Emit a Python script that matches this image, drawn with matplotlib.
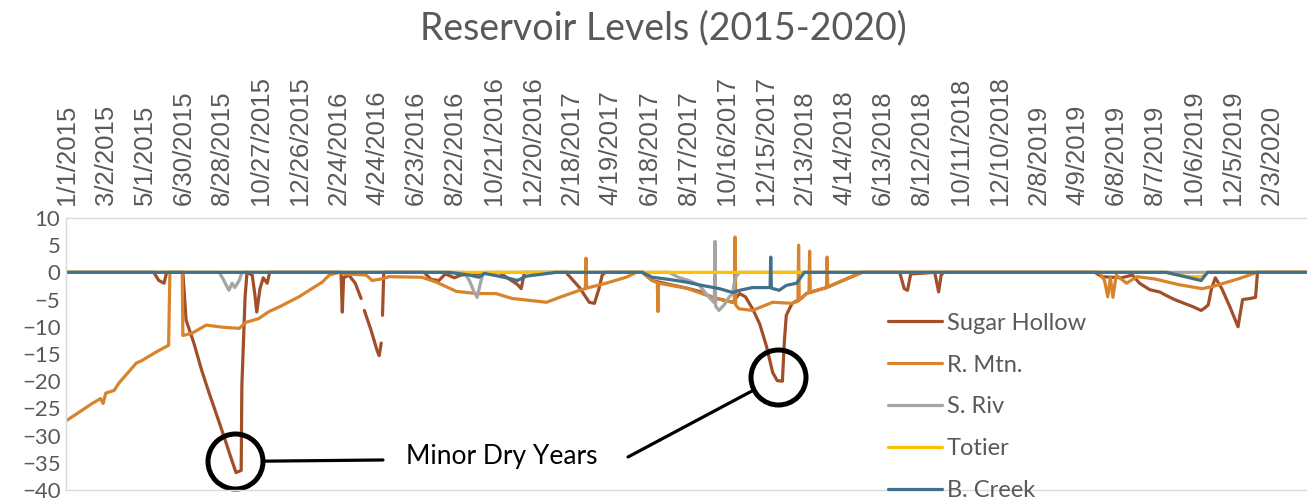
import numpy as np
import pandas as pd
import matplotlib
matplotlib.use('Agg')
import matplotlib.pyplot as plt
import matplotlib.dates as mdates
from matplotlib.transforms import offset_copy

# Reservoir levels, feet relative to full pool. x = days since 1/1/2015
start = pd.Timestamp('2015-01-01')

sugar_days = [0, 134, 142, 150, 154, 179, 184, 196, 208, 219, 232, 242, 253, 261, 269, 270, 275, 278,
              286, 290, 293, 298, 303, 309, 313, 423, 425, 427, 435, 445, 454, 455, 459, 469, 479, 482,
              485, 486, 487, 489, 551, 562, 574, 584, 598, 608, 667, 682, 695, 701, 706, 770, 791, 806,
              814, 821, 826, 831, 888, 903, 929, 956, 976, 996, 1027, 1038, 1047, 1058, 1069, 1079,
              1089, 1096, 1104, 1107, 1110, 1119, 1133, 1141, 1172, 1207, 1227, 1285, 1292, 1297, 1302,
              1339, 1345, 1349, 1353, 1586, 1597, 1627, 1644, 1655, 1671, 1686, 1697, 1709, 1724, 1739,
              1750, 1755, 1761, 1766, 1772, 1782, 1795, 1807, 1814, 1826, 1834, 1837, 1912]
sugar_vals = [0, 0, -1.5, -2.0, 0, 0, -8.8, -13.0, -18.0, -22.0, -26.5, -30.0, -34.0, -36.8, -36.4, -21.0, -4.5, 0,
              -0.5, -4.0, -7.3, -3.0, -1.0, -2.0, 0, 0, -7.3, -1.0, -0.5, -2.0, -4.8, np.nan, -7.0, -10.5, -14.5, -15.3,
              -13.0, np.nan, -7.9, 0, 0, -1.3, -1.5, -0.3, -1.0, -0.5, 0, -1.2, -2.2, -3.0, 0, 0, -2.8, -5.5,
              -5.7, -3.0, -0.5, 0, 0, -1.5, -2.2, -2.9, -3.5, -4.6, -5.5, -3.9, -4.5, -6.7, -9.5, -13.4,
              -18.4, -19.9, -20.0, -12.8, -7.9, -5.7, -4.8, -3.9, -2.8, -1.0, 0, 0, -3.0, -3.3, -0.3,
              0, -3.6, -0.5, 0, 0, -0.8, -1.0, -0.5, -2.0, -3.2, -3.6, -4.3, -5.0, -5.7, -6.4,
              -7.0, -6.6, -6.0, -3.0, -1.0, -3.0, -6.5, -10.0, -5.0, -4.8, -4.6, 0, 0]

rmtn_days = [0, 19, 39, 52, 56, 60, 73, 80, 107, 116, 137, 157, 159, 178, 179, 193, 215, 242, 266, 276,
             296, 312, 327, 358, 394, 405, 420, 428, 462, 471, 486, 497, 548, 570, 601, 632, 662, 687,
             740, 760, 791, 800, 801, 802, 832, 863, 879, 888, 903, 911, 912, 913, 956, 996, 1027, 1030,
             1031, 1032, 1037, 1058, 1089, 1119, 1128, 1129, 1130, 1141, 1145, 1146, 1147, 1172, 1173,
             1174, 1207, 1227, 1593, 1601, 1606, 1610, 1614, 1619, 1635, 1651, 1678, 1717, 1752, 1771,
             1810, 1836, 1912]
rmtn_vals = [-27.2, -25.7, -24.1, -23.2, -24.1, -22.2, -21.7, -20.4, -16.7, -16.2, -14.7, -13.4, 0, 0, -11.6, -11.2, -9.7, -10.1, -10.3, -9.2,
             -8.5, -7.2, -6.4, -4.5, -1.8, -0.5, 0, -0.3, -0.5, -1.5, -1.2, -0.8, -0.9, -1.8, -3.5, -3.9, -3.9, -4.8,
             -5.5, -4.6, -3.3, -3.0, 2.6, -2.9, -2.0, -0.9, 0, 0, -1.5, -1.9, -7.2, -2.0, -2.9, -4.6, -5.5, -5.6,
             6.5, -6.0, -6.7, -7.0, -5.5, -5.7, -5.3, 5.0, -5.1, -3.9, -3.7, 3.9, -3.6, -2.8, 2.8,
             -2.7, -1.0, 0, 0, -1.5, -4.5, -1.0, -4.6, -0.5, -2.0, -0.8, -1.2, -2.3, -3.0, -2.5,
             -1.1, 0, 0]

sriv_days = [0, 235, 241, 247, 250, 255, 259, 266, 270, 613, 621, 628, 633, 638, 643, 929, 945, 960, 976,
             991, 999, 1000, 1001, 1006, 1014, 1022, 1027, 1031, 1038, 1912]
sriv_vals = [0, 0, -1.2, -2.6, -3.3, -2.0, -2.8, -1.5, 0, 0, -1.5, -3.5, -4.6, -2.0, 0, 0, -1.0, -1.5, -2.4,
             -4.6, -5.6, 5.7, -6.2, -7.0, -6.0, -4.5, -4.0, -1.0, 0, 0]

totier_days = [0, 1694, 1709, 1732, 1752, 1760, 1912]
totier_vals = [0, 0, -0.4, -0.8, -0.8, 0, 0]

bcreek_days = [0, 590, 621, 636, 644, 662, 682, 695, 709, 729, 755, 888, 903, 929, 956, 980, 1007, 1027,
               1038, 1058, 1085, 1086, 1087, 1099, 1110, 1126, 1133, 1138, 1697, 1725, 1750, 1760, 1912]
bcreek_vals = [0, 0, -0.5, -0.9, -0.2, -0.6, -1.1, -1.5, -0.7, -0.4, 0, 0, -0.9, -1.3, -1.8, -2.4, -3.0, -3.7,
               -3.3, -2.8, -2.8, 2.8, -2.9, -3.3, -2.4, -2.0, -0.8, 0, 0, -0.8, -1.5, 0, 0]

date_labels = ['1/1/2015', '3/2/2015', '5/1/2015', '6/30/2015', '8/28/2015', '10/27/2015', '12/26/2015',
               '2/24/2016', '4/24/2016', '6/23/2016', '8/22/2016', '10/21/2016', '12/20/2016', '2/18/2017',
               '4/19/2017', '6/18/2017', '8/17/2017', '10/16/2017', '12/15/2017', '2/13/2018', '4/14/2018',
               '6/13/2018', '8/12/2018', '10/11/2018', '12/10/2018', '2/8/2019', '4/9/2019', '6/8/2019',
               '8/7/2019', '10/6/2019', '12/5/2019', '2/3/2020']

series = [
    ('Sugar Hollow', sugar_days, sugar_vals, '#A04F28'),
    ('R. Mtn.', rmtn_days, rmtn_vals, '#D8842C'),
    ('S. Riv', sriv_days, sriv_vals, '#A5A5A5'),
    ('Totier', totier_days, totier_vals, '#FFC000'),
    ('B. Creek', bcreek_days, bcreek_vals, '#41708D'),
]

def to_dates(days):
    return start + pd.to_timedelta(days, unit='D')

grey = '#595959'
fig = plt.figure(figsize=(13.07, 5.01), dpi=100)
ax = fig.add_axes([0.0505, 0.022, 0.9495, 0.543])

for name, d, v, c in series:
    ax.plot(to_dates(d), v, color=c, lw=2.3, label=name,
            solid_joinstyle='round', solid_capstyle='round')

ax.set_ylim(-40, 10)
ax.set_yticks(np.arange(-40, 11, 5))
ax.set_xlim(start - pd.Timedelta(days=1.3), start + pd.Timedelta(days=1913.4))

tick_dates = pd.to_datetime(date_labels, format='%m/%d/%Y')
ax.xaxis.tick_top()
ax.set_xticks(tick_dates)
ax.set_xticklabels(date_labels, rotation=90, fontsize=18.5, color=grey,
                   family='Liberation Sans')
ax.tick_params(axis='x', length=0, pad=9)
ax.tick_params(axis='y', length=0, pad=4, labelsize=16, labelcolor=grey)
for lab in ax.get_yticklabels():
    lab.set_family('Lato')

for s in ['top', 'bottom', 'left']:
    ax.spines[s].set_color('#D9D9D9')
    ax.spines[s].set_linewidth(1.0)
ax.spines['right'].set_visible(False)

fig.text(0.5077, 1 - 28 / 501, 'Reservoir Levels (2015-2020)', ha='center', va='center',
         fontsize=27, color=grey, family='Lato')

leg = ax.legend(loc='upper left', bbox_to_anchor=(0.662, 0.652), frameon=False,
                prop={'family': 'Lato', 'size': 17}, labelcolor=grey,
                handlelength=2.3, handletextpad=0.2, labelspacing=0.885,
                borderaxespad=0, borderpad=0)

# circle the two lowest Sugar Hollow dips
sh = pd.Series(sugar_vals, index=sugar_days)
dip1 = sh.loc[:600].idxmin()
dip2 = sh.loc[900:1300].idxmin()
x1 = mdates.date2num(to_dates([dip1])[0])
x2 = mdates.date2num(to_dates([dip2])[0])
tr1 = offset_copy(ax.transData, fig=fig, x=-1, y=8, units='points')
tr2 = offset_copy(ax.transData, fig=fig, x=-3, y=3, units='points')
ax.plot([x1], [sh[dip1]], marker='o', ms=39.6, mfc='none', mec='black', mew=3.6,
        transform=tr1, clip_on=False)
ax.plot([x2], [sh[dip2]], marker='o', ms=39.6, mfc='none', mec='black', mew=3.6,
        transform=tr2, clip_on=False)

ax.text(0.3513, 0.1213, 'Minor Dry Years', transform=ax.transAxes, ha='center', va='center',
        fontsize=19, family='Lato', color='black')
ax.annotate('', xy=(x1, sh[dip1]), xycoords=tr1,
            xytext=(0.2554, 0.1103), textcoords='axes fraction',
            arrowprops=dict(arrowstyle='-', lw=2.3, color='black', shrinkA=0, shrinkB=20))
ax.annotate('', xy=(x2, sh[dip2]), xycoords=tr2,
            xytext=(0.4529, 0.1213), textcoords='axes fraction',
            arrowprops=dict(arrowstyle='-', lw=2.3, color='black', shrinkA=0, shrinkB=20))

fig.savefig('out.png', dpi=100)
